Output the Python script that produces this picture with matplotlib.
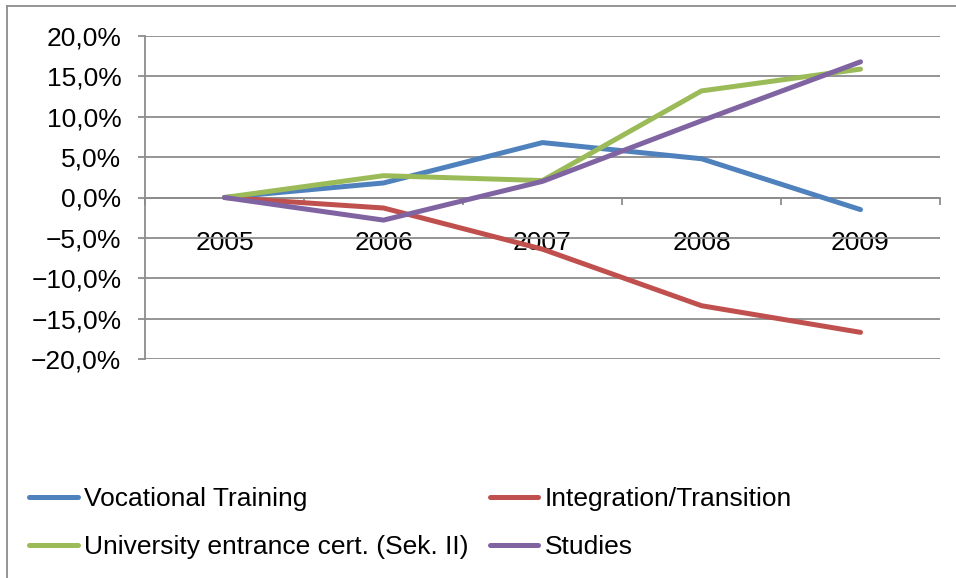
import numpy as np
import matplotlib.pyplot as plt
from matplotlib.lines import Line2D
from matplotlib.ticker import FuncFormatter, FixedLocator

plt.rcParams['font.family'] = ['Liberation Sans', 'DejaVu Sans']

years = ['2005', '2006', '2007', '2008', '2009']
vocational = [0.0, 1.8, 6.8, 4.8, -1.5]
integration = [0.0, -1.3, -6.4, -13.4, -16.7]
university = [0.0, 2.7, 2.1, 13.2, 15.9]
studies = [0.0, -2.8, 2.0, 9.5, 16.8]

labels = ['Vocational Training', 'Integration/Transition',
          'University entrance cert. (Sek. II)', 'Studies']
colors = ['#4F81BD', '#C0504D', '#9BBB59', '#8064A2']
series = [vocational, integration, university, studies]

fig = plt.figure(figsize=(9.56, 5.78), dpi=100)
ax = fig.add_axes([145/956, 1-359/578, (940-145)/956, (359-36)/578])

x = np.arange(len(years))
handles = []
for vals, c, lab in zip(series, colors, labels):
    h, = ax.plot(x, vals, color=c, lw=3.6, solid_capstyle='round',
                 solid_joinstyle='round', label=lab, zorder=3)
    handles.append(h)

grid_c = '#8C8C8C'
fs = 19
ax.set_xlim(-0.5, 4.5)
ax.set_ylim(-20, 20)
ax.set_yticks(np.arange(-20, 21, 5))
ax.yaxis.set_major_formatter(
    FuncFormatter(lambda v, p: f'{v:.1f}%'.replace('.', ',').replace('-', '\u2212')))
ax.grid(axis='y', color=grid_c, lw=1.3, zorder=1)
ax.set_axisbelow(True)

for s in ['top', 'right']:
    ax.spines[s].set_visible(False)
ax.spines['bottom'].set_position(('data', 0))
ax.spines['bottom'].set_color(grid_c)
ax.spines['bottom'].set_linewidth(1.3)
ax.spines['left'].set_color(grid_c)
ax.spines['left'].set_linewidth(1.3)

ax.set_xticks(x)
ax.set_xticklabels(years)
ax.xaxis.set_minor_locator(FixedLocator(np.arange(-0.5, 5, 1)))
ax.tick_params(axis='x', which='major', length=0, pad=24, labelsize=fs)
ax.tick_params(axis='x', which='minor', length=5, width=1.3, color=grid_c, direction='out')
ax.tick_params(axis='y', length=5, width=1.3, color=grid_c, pad=12, labelsize=fs)

# legend filled column-wise, so reorder to get row order as in the original
order = [0, 2, 1, 3]
fig.legend(handles=[handles[i] for i in order], loc='upper left',
           bbox_to_anchor=(29/956, 1-487/578),
           ncol=2, frameon=False, fontsize=fs, handlelength=1.85,
           handletextpad=0.25, columnspacing=0.78, labelspacing=0.91, borderpad=0,
           borderaxespad=0)

# chart border
fig.add_artist(Line2D([7/956, 7/956], [0, 1-6/578], color=grid_c, lw=1.3))
fig.add_artist(Line2D([7/956, 1], [1-6/578, 1-6/578], color=grid_c, lw=1.3))

fig.savefig('out.png', dpi=100)
